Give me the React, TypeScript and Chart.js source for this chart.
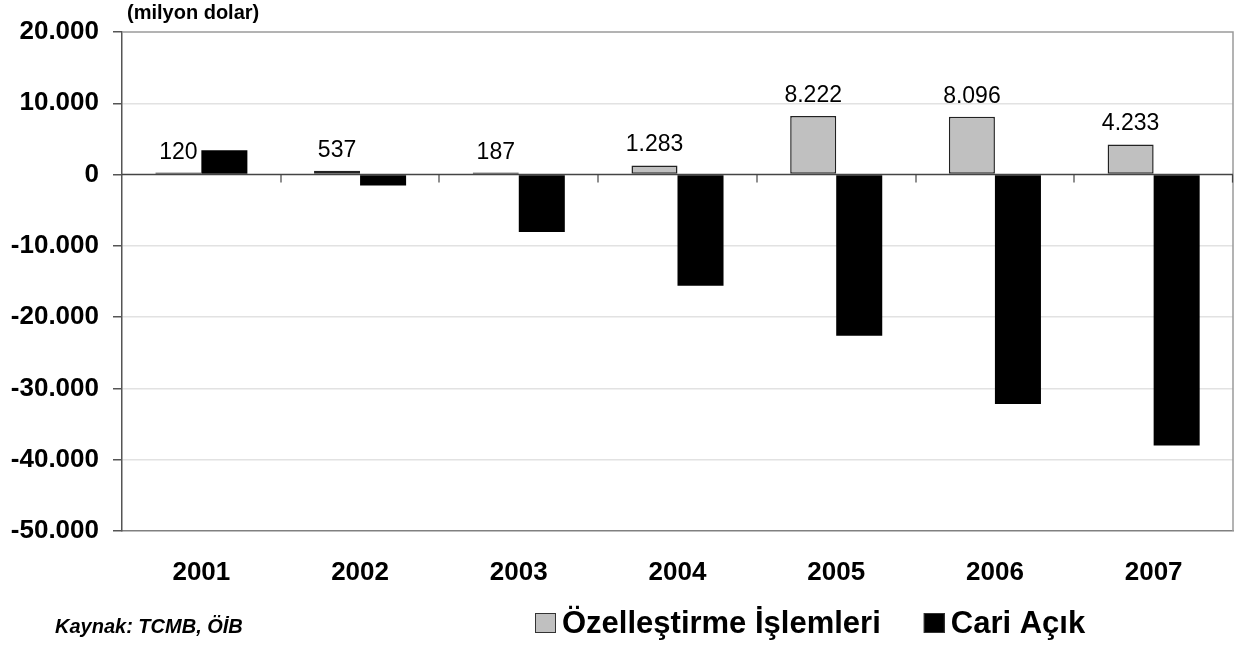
import React, { useEffect, useRef } from "react";
import { Chart, registerables } from "chart.js";

Chart.register(...registerables);

const years = ["2001", "2002", "2003", "2004", "2005", "2006", "2007"];
const privatization = [120, 537, 187, 1283, 8222, 8096, 4233];
const currentAccount = [3400, -1520, -8040, -15600, -22600, -32200, -38000];
const seriesNames = ["Özelleştirme İşlemleri", "Cari Açık"];
const seriesColors = ["#C0C0C0", "#000000"];
const yMin = -50000;
const yMax = 20000;
const yStep = 10000;
const unitLabel = "(milyon dolar)";
const sourceLabel = "Kaynak: TCMB, ÖİB";

const FONT = '"Liberation Sans", Arial, Helvetica, sans-serif';

function fmt(v: number): string {
  const neg = v < 0;
  const s = Math.abs(Math.round(v)).toString();
  const out = s.replace(/\B(?=(\d{3})+(?!\d))/g, ".");
  return (neg ? "-" : "") + out;
}

const decorPlugin = {
  id: "decor",
  beforeDatasetsDraw(chart: any) {
    const { ctx, chartArea: a } = chart;
    ctx.save();
    ctx.strokeStyle = "#9a9a9a";
    ctx.lineWidth = 1.5;
    ctx.beginPath();
    ctx.moveTo(a.left, a.top);
    ctx.lineTo(a.right, a.top);
    ctx.lineTo(a.right, a.bottom);
    ctx.stroke();
    ctx.restore();
  },
  afterDatasetsDraw(chart: any) {
    const { ctx, chartArea: a, scales } = chart;
    const y0 = scales.y.getPixelForValue(0);
    ctx.save();
    ctx.strokeStyle = "#444";
    ctx.lineWidth = 1.5;
    ctx.beginPath();
    ctx.moveTo(a.left, y0);
    ctx.lineTo(a.right, y0);
    ctx.stroke();
    // category boundary ticks
    const n = years.length;
    const w = (a.right - a.left) / n;
    ctx.lineWidth = 1.2;
    for (let i = 1; i <= n; i++) {
      const x = Math.round(a.left + i * w) - (i === n ? 0.5 : 0);
      ctx.beginPath();
      ctx.moveTo(x, y0);
      ctx.lineTo(x, y0 + 8);
      ctx.stroke();
    }
    // data labels for first dataset
    const meta = chart.getDatasetMeta(0);
    ctx.fillStyle = "#000";
    ctx.font = `23px ${FONT}`;
    ctx.textAlign = "center";
    ctx.textBaseline = "alphabetic";
    meta.data.forEach((bar: any, i: number) => {
      ctx.fillText(fmt(privatization[i]), bar.x, bar.y - 14);
    });
    ctx.restore();
  },
  afterDraw(chart: any) {
    const { ctx } = chart;
    ctx.save();
    ctx.fillStyle = "#000";
    ctx.textBaseline = "alphabetic";
    ctx.textAlign = "left";
    ctx.font = `bold 20px ${FONT}`;
    ctx.fillText(unitLabel, 127, 19);
    ctx.font = `italic bold 20px ${FONT}`;
    ctx.fillText(sourceLabel, 55, 633);
    // legend
    ctx.font = `bold 31px ${FONT}`;
    let x = 535;
    const baseline = 633;
    seriesNames.forEach((name, i) => {
      ctx.fillStyle = seriesColors[i];
      ctx.fillRect(x, 613, 21, 20);
      ctx.strokeStyle = "#333";
      ctx.lineWidth = 1;
      ctx.strokeRect(x + 0.5, 613.5, 20, 19);
      ctx.fillStyle = "#000";
      ctx.fillText(name, x + 27, baseline);
      x = x + 27 + ctx.measureText(name).width + 43;
    });
    ctx.restore();
  },
};

export default function App() {
  const ref = useRef<HTMLCanvasElement | null>(null);

  useEffect(() => {
    document.body.style.margin = "0";
    const canvas = ref.current;
    if (!canvas) return;
    const chart = new Chart(canvas, {
      type: "bar",
      data: {
        labels: years,
        datasets: [
          {
            label: seriesNames[0],
            data: privatization,
            backgroundColor: seriesColors[0],
            borderColor: "#222",
            borderWidth: 1.5,
            borderSkipped: false,
            minBarLength: 2,
          },
          {
            label: seriesNames[1],
            data: currentAccount,
            backgroundColor: seriesColors[1],
            borderColor: "#000",
            borderWidth: 0,
          },
        ],
      },
      options: {
        responsive: false,
        animation: false,
        devicePixelRatio: 1,
        layout: { padding: { top: 32, right: 6, bottom: 0, left: 0 } },
        datasets: {
          bar: { barPercentage: 1, categoryPercentage: 0.58 },
        },
        plugins: {
          legend: { display: false },
          tooltip: { enabled: false },
          title: { display: false },
        },
        scales: {
          x: {
            offset: true,
            grid: { display: true, drawOnChartArea: false, drawTicks: false },
            border: { display: true, color: "#808080", width: 1.5 },
            ticks: {
              color: "#000",
              padding: 26,
              font: { family: FONT, size: 26, weight: "bold" },
              maxRotation: 0,
            },
            afterFit: (scale: any) => {
              scale.height = 116;
            },
          },
          y: {
            min: yMin,
            max: yMax,
            ticks: {
              stepSize: yStep,
              color: "#000",
              padding: 14,
              font: { family: FONT, size: 26, weight: "bold" },
              callback: (v: any) => fmt(Number(v)),
            },
            grid: {
              color: (c: any) =>
                c.tick && (c.tick.value === 0 || c.tick.value === yMax || c.tick.value === yMin)
                  ? "rgba(0,0,0,0)"
                  : "#e2e2e2",
              tickColor: "#555",
              tickLength: 9,
              lineWidth: 1.5,
            },
            border: { display: true, color: "#555", width: 1.5 },
            afterFit: (scale: any) => {
              scale.width = 122;
            },
          },
        },
      },
      plugins: [decorPlugin],
    } as any);
    return () => chart.destroy();
  }, []);

  return (
    <div style={{ position: "fixed", left: 0, top: 0, width: 1239, height: 647, background: "#fff" }}>
      <canvas ref={ref} width={1239} height={647} style={{ display: "block" }} />
    </div>
  );
}
